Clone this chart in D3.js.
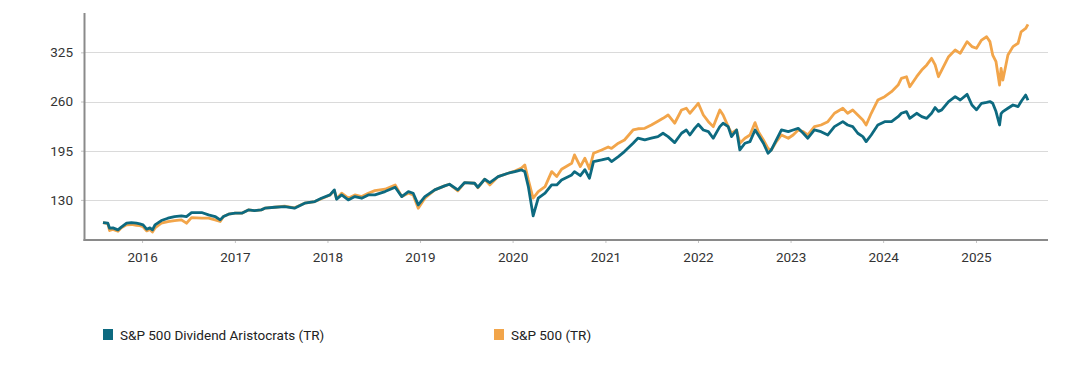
<!DOCTYPE html>
<html>
	<head>
		<meta charset="utf-8">
		<title>S&amp;P 500 Dividend Aristocrats vs S&amp;P 500</title>
		<script src="https://cdn.jsdelivr.net/npm/d3@7"></script>
		<style>
			body {
				margin: 0;
				background: #ffffff;
			}
			text {
				font-family: Roboto, "Liberation Sans", sans-serif;
			}
		</style>
	</head>
	<body>
		<div id="root"></div>
		<script>
			//dates of the points
			const dates = [
				"2015-07-31","2015-08-19","2015-08-26","2015-09-08","2015-09-28","2015-10-11","2015-11-01","2015-11-20","2015-12-10","2015-12-23",
				"2016-01-05","2016-01-19","2016-02-01","2016-02-11","2016-02-21","2016-03-17","2016-04-12","2016-05-08","2016-06-04","2016-06-24",
				"2016-07-14","2016-08-23","2016-09-19","2016-10-15","2016-11-04","2016-11-17","2016-12-07","2017-01-02","2017-01-28","2017-02-23",
				"2017-03-19","2017-04-15","2017-04-29","2017-06-07","2017-07-16","2017-08-24","2017-10-03","2017-11-12","2017-12-08","2018-01-11",
				"2018-01-28","2018-02-06","2018-02-26","2018-03-24","2018-04-19","2018-05-16","2018-06-11","2018-07-07","2018-08-16","2018-09-25",
				"2018-10-21","2018-11-16","2018-12-05","2018-12-25","2019-01-20","2019-02-28","2019-04-08","2019-04-27","2019-05-30","2019-06-26",
				"2019-08-04","2019-08-17","2019-09-13","2019-10-03","2019-11-05","2019-12-14","2020-01-10","2020-02-05","2020-02-18","2020-03-03",
				"2020-03-22","2020-04-11","2020-05-08","2020-06-03","2020-06-23","2020-07-12","2020-08-21","2020-09-01","2020-09-24","2020-10-12",
				"2020-10-30","2020-11-15","2020-12-17","2021-01-12","2021-01-25","2021-02-21","2021-03-17","2021-04-20","2021-05-09","2021-06-05",
				"2021-07-01","2021-07-27","2021-08-16","2021-09-05","2021-10-01","2021-10-28","2021-11-16","2021-11-30","2021-12-19","2022-01-02",
				"2022-01-22","2022-02-11","2022-03-02","2022-03-28","2022-04-10","2022-04-30","2022-05-13","2022-06-02","2022-06-15","2022-07-05",
				"2022-07-25","2022-08-14","2022-08-27","2022-09-16","2022-10-04","2022-10-17","2022-11-06","2022-11-26","2022-12-23","2023-01-11",
				"2023-01-31","2023-02-20","2023-03-10","2023-04-05","2023-05-01","2023-05-28","2023-06-23","2023-07-26","2023-08-14","2023-09-03",
				"2023-09-23","2023-10-13","2023-10-26","2023-11-15","2023-12-11","2024-01-07","2024-02-03","2024-02-29","2024-03-13","2024-04-02",
				"2024-04-15","2024-05-12","2024-06-01","2024-06-21","2024-07-10","2024-07-24","2024-08-06","2024-08-19","2024-09-15","2024-10-11",
				"2024-10-31","2024-11-27","2024-12-16","2025-01-03","2025-01-23","2025-02-12","2025-02-25","2025-03-08","2025-03-21","2025-04-04",
				"2025-04-10","2025-04-17","2025-05-07","2025-05-27","2025-06-16","2025-06-28","2025-07-16","2025-07-25"
			];

			//S&P 500 Dividend Aristocrats (TR), indexed to 100
			const aristocrats = [
				100,99.2,92.6,93,90.4,94,99.2,100,99.2,98.3,
				97,91.3,93,90.4,97,102.7,105.8,108,108.9,108,
				113.3,113.3,110.2,108,103.6,108,111.1,112.4,112.4,116.8,
				115.9,116.8,119,120.3,121.2,119,125.6,127.8,132.2,136.6,
				143.2,130.9,136.6,130,134.4,132.2,136.6,136.6,141,146.7,
				134.4,141,138.8,123.4,134.4,143.2,148.5,150.7,143.2,152.9,
				152,146.7,157.3,152.9,160.8,165.2,167.4,169.6,167.4,147.6,
				108.9,132.2,138.8,149.8,149.8,156.4,163,167.4,162,170,
				158.6,180.6,182.8,185,180.6,187.2,193.8,204.9,211.5,209.2,
				211.5,213.6,218.1,213.6,205.7,218.1,222.4,215.8,224.6,229.9,
				222.4,220.2,211.5,226.8,231.3,226.8,213.6,222.4,196,204.9,
				207,222.4,215.8,204.9,191.6,196,209.2,222.4,220.2,222.4,
				224.6,218.1,211.5,222.4,220.2,215.8,226.8,233.4,229,226.8,
				218.1,213.6,207,215.8,229,233.4,233.4,240,244.5,246.7,
				237.8,244.5,240,237.8,244.5,252,247,249,260,266.4,
				262,269.5,255.4,249,257.7,259,260,257.7,246.7,229,
				244,246.7,251.1,255.4,253.3,260,268.6,261.6
			];

			//S&P 500 (TR), indexed to 100
			const sp500 = [
				100,98.5,89.5,91,88.5,93,97,97.5,96.5,96,
				94.5,89,91,87.7,93,99.2,101.4,102.7,103.6,99.2,
				106.6,105.8,105.8,103.6,101.4,108,111.1,112.4,112.4,116.8,
				115.9,116.8,119,120.3,121.8,119.5,125.6,127.8,131.5,136.6,
				142.5,131.5,138.8,132.2,136.6,134.4,138.8,142.3,144.1,149.8,
				134.4,138.8,136.6,119,132.2,143.2,148.5,150.7,142,152.9,
				152,146,157.3,149.8,160.8,165.2,168,172,176.2,156.4,
				132.2,141,147.6,167.4,160.8,170.5,178.4,189.4,174,185,
				171,191.6,196,200,198,204.9,209.2,222.4,224,224.6,
				229,234,237.8,242.2,231.3,248.8,251.1,244.5,252,257.7,
				242.2,233.4,226.8,248.8,242.2,226.8,218.1,222.4,205,211.5,
				215.8,232.1,220.2,209.2,198,196,207,215.8,211.5,215.8,
				222.4,220.2,215.8,226.8,229,233.4,244.5,251.1,244.5,248.8,
				242.2,235.6,229,244.5,262,266.4,273,281.8,290.6,292.8,
				279.6,292.8,301.6,308.4,317.1,308.4,292.8,301.6,319.3,328.1,
				323.7,339.2,332.6,330.4,341.2,345.6,339.2,321.4,312.6,281.8,
				303.8,288.4,321.4,332.6,337,352.2,356.6,361.9
			];

			const seriesNames = ["S&P 500 Dividend Aristocrats (TR)", "S&P 500 (TR)"];
			const seriesColors = ["#0d6a80", "#f2a54a"];
			const yTicks = [130, 195, 260, 325];
			const xTickYears = [2016, 2017, 2018, 2019, 2020, 2021, 2022, 2023, 2024, 2025];

			//dimensions of svg canvas
			const width = 1083;
			const height = 372;

			//plot area edges
			const plotLeft = 85;
			const plotRight = 1048;
			const plotTop = 13;
			const plotBottom = 240;

			const parseDate = d3.timeParse("%Y-%m-%d");
			const points = dates.map((d, i) => ({date: parseDate(d), a: aristocrats[i], s: sp500[i]}));

			const xScale = d3.scaleTime()
			.domain([parseDate("2015-05-21"), parseDate("2025-10-12")])
			.range([plotLeft, plotRight]);

			const yScale = d3.scaleLinear()
			.domain([77, 377])
			.range([plotBottom, plotTop]);

			const svg = d3.select("#root")
			.append("svg")
			.attr("width", width)
			.attr("height", height);

			//horizontal gridlines
			svg.append("g")
			.selectAll("line")
			.data(yTicks)
			.enter()
			.append("line")
			.attr("x1", plotLeft)
			.attr("x2", plotRight)
			.attr("y1", (d) => Math.round(yScale(d)) + 0.5)
			.attr("y2", (d) => Math.round(yScale(d)) + 0.5)
			.attr("stroke", "#dadada")
			.attr("stroke-width", 1);

			//Y Axis
			const yAxis = d3.axisLeft(yScale)
			.tickValues(yTicks)
			.tickSize(4)
			.tickPadding(8);

			const yG = svg.append("g")
			.attr("transform", "translate(" + plotLeft + ",0)")
			.call(yAxis);
			yG.select(".domain").remove();
			yG.selectAll(".tick line").attr("stroke", "#c4c4c4");
			yG.selectAll(".tick text")
			.attr("fill", "#333")
			.attr("font-size", "13.5px")
			.attr("font-family", "Roboto, 'Liberation Sans', sans-serif");

			//X Axis
			const xAxis = d3.axisBottom(xScale)
			.tickValues(xTickYears.map((y) => new Date(y, 0, 1)))
			.tickFormat(d3.timeFormat("%Y"))
			.tickSize(3)
			.tickPadding(9);

			const xG = svg.append("g")
			.attr("transform", "translate(0," + plotBottom + ")")
			.call(xAxis);
			xG.select(".domain").remove();
			xG.selectAll(".tick line").attr("stroke", "#c4c4c4");
			xG.selectAll(".tick text")
			.attr("fill", "#333")
			.attr("font-size", "13.5px")
			.attr("font-family", "Roboto, 'Liberation Sans', sans-serif");

			//axis lines
			svg.append("line")
			.attr("x1", plotLeft - 0.5).attr("x2", plotLeft - 0.5)
			.attr("y1", plotTop).attr("y2", plotBottom + 1)
			.attr("stroke", "#8a8a8a")
			.attr("stroke-width", 2);

			svg.append("line")
			.attr("x1", plotLeft - 1.5).attr("x2", plotRight)
			.attr("y1", plotBottom).attr("y2", plotBottom)
			.attr("stroke", "#8a8a8a")
			.attr("stroke-width", 2);

			//lines, S&P 500 drawn first so the aristocrats sit on top
			const lineS = d3.line().x((d) => xScale(d.date)).y((d) => yScale(d.s));
			const lineA = d3.line().x((d) => xScale(d.date)).y((d) => yScale(d.a));

			svg.append("path")
			.datum(points)
			.attr("d", lineS)
			.attr("fill", "none")
			.attr("stroke", seriesColors[1])
			.attr("stroke-width", 2.8)
			.attr("stroke-linejoin", "round");

			svg.append("path")
			.datum(points)
			.attr("d", lineA)
			.attr("fill", "none")
			.attr("stroke", seriesColors[0])
			.attr("stroke-width", 2.8)
			.attr("stroke-linejoin", "round");

			//legend
			const legendX = [103, 494];
			const legend = svg.append("g")
			.selectAll("g")
			.data(seriesNames)
			.enter()
			.append("g")
			.attr("transform", (d, i) => "translate(" + legendX[i] + ",329)");

			legend.append("rect")
			.attr("width", 10)
			.attr("height", 11)
			.attr("fill", (d, i) => seriesColors[i]);

			legend.append("text")
			.attr("x", 17)
			.attr("y", 10.5)
			.attr("font-size", "13.5px")
			.attr("fill", "#222")
			.text((d) => d);
		</script>
	</body>
</html>
